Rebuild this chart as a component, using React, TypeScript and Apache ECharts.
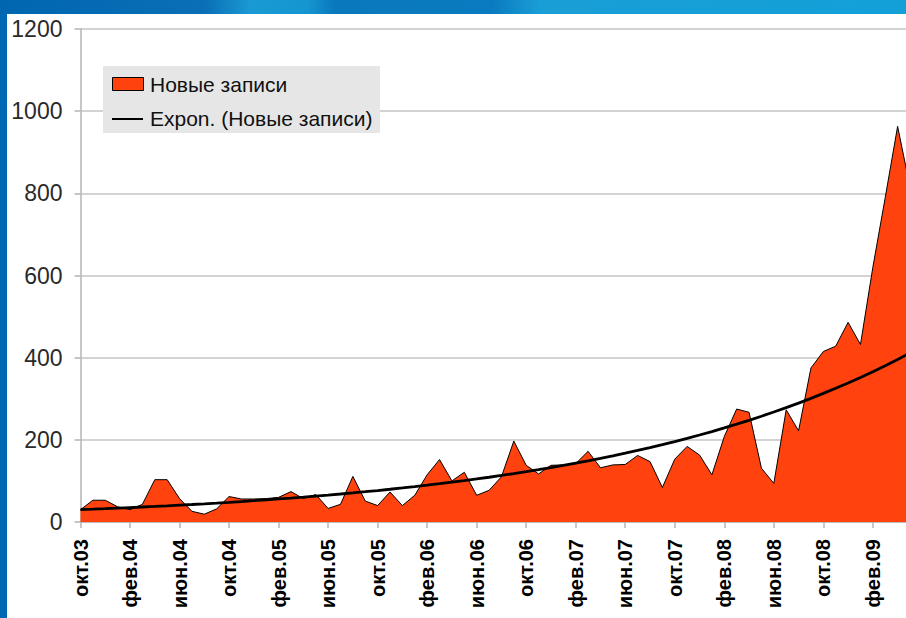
import React, { useEffect, useRef } from "react";
import * as echarts from "echarts";

const categories = [
  "окт.03","ноя.03","дек.03","янв.04","фев.04","мар.04","апр.04","май.04","июн.04","июл.04","авг.04","сен.04",
  "окт.04","ноя.04","дек.04","янв.05","фев.05","мар.05","апр.05","май.05","июн.05","июл.05","авг.05","сен.05",
  "окт.05","ноя.05","дек.05","янв.06","фев.06","мар.06","апр.06","май.06","июн.06","июл.06","авг.06","сен.06",
  "окт.06","ноя.06","дек.06","янв.07","фев.07","мар.07","апр.07","май.07","июн.07","июл.07","авг.07","сен.07",
  "окт.07","ноя.07","дек.07","янв.08","фев.08","мар.08","апр.08","май.08","июн.08","июл.08","авг.08","сен.08",
  "окт.08","ноя.08","дек.08","янв.09","фев.09","мар.09","апр.09","май.09",
];

const newRecords = [
  30, 53, 53, 37, 30, 43, 103, 103, 57, 26, 19, 32,
  62, 56, 56, 57, 60, 74, 57, 67, 33, 43, 111, 51,
  40, 73, 40, 65, 115, 152, 100, 121, 65, 77, 110, 197,
  138, 117, 138, 139, 142, 172, 132, 139, 140, 162, 147, 84,
  153, 184, 163, 115, 208, 275, 267, 131, 94, 273, 222, 375,
  415, 428, 486, 432, 620, 790, 963, 815,
];

const yTicks = { min: 0, max: 1200, interval: 200 };

const seriesName = "Новые записи";
const trendName = "Expon. (Новые записи)";

// Exponential trend (least squares on ln y), as the spreadsheet's trendline does
function expTrend(values: number[]): number[] {
  const n = values.length;
  let sx = 0, sy = 0, sxx = 0, sxy = 0;
  values.forEach((v, i) => {
    const ly = Math.log(v);
    sx += i; sy += ly; sxx += i * i; sxy += i * ly;
  });
  const b = (n * sxy - sx * sy) / (n * sxx - sx * sx);
  const a = (sy - b * sx) / n;
  return values.map((_, i) => Math.exp(a + b * i));
}

const FONT = "'Liberation Sans', Arial, sans-serif";

export default function App() {
  const ref = useRef<HTMLDivElement>(null);
  useEffect(() => {
    if (!ref.current) return;
    const chart = echarts.init(ref.current, null, { renderer: "svg" });
    const trend = expTrend(newRecords);
    chart.setOption({
      animation: false,
      backgroundColor: "#ffffff",
      grid: { left: 80.5, top: 29, right: 20, bottom: 96, outerBoundsMode: "none", containLabel: false },
      xAxis: {
        type: "category",
        data: categories,
        boundaryGap: false,
        axisLine: { show: true, lineStyle: { color: "#b4b4b4", width: 1.5 } },
        axisTick: { show: true, interval: (i: number) => i % 4 === 0, length: 6, lineStyle: { color: "#b4b4b4", width: 1.5 } },
        axisLabel: {
          interval: (i: number) => i % 4 === 0,
          rotate: 90,
          margin: 17,
          fontFamily: FONT,
          fontSize: 20,
          fontWeight: "bold",
          color: "#000000",
        },
        splitLine: { show: false },
      },
      yAxis: {
        type: "value",
        min: yTicks.min,
        max: yTicks.max,
        interval: yTicks.interval,
        axisLine: { show: true, lineStyle: { color: "#b4b4b4", width: 1.5 } },
        axisTick: { show: true, length: 6, lineStyle: { color: "#b4b4b4", width: 1.5 } },
        axisLabel: { margin: 18, fontFamily: FONT, fontSize: 23, color: "#2a2a2a", formatter: (v: number) => String(v) },
        splitLine: { show: true, lineStyle: { color: "#c4c4c4", width: 1.5 } },
      },
      series: [
        {
          name: seriesName,
          type: "line",
          data: newRecords,
          symbol: "none",
          lineStyle: { color: "#000000", width: 1 },
          areaStyle: { color: "#ff420e", opacity: 1 },
          itemStyle: { color: "#ff420e" },
          z: 2,
        },
        {
          name: trendName,
          type: "line",
          data: trend,
          symbol: "none",
          smooth: false,
          lineStyle: { color: "#000000", width: 2.8 },
          z: 3,
        },
      ],
      graphic: [
        { type: "rect", shape: { x: 0, y: 0, width: 7, height: 618 }, style: { fill: "#0068b2" }, z: 100 },
        {
          type: "rect",
          shape: { x: 0, y: 0, width: 930, height: 14 },
          style: {
            fill: new echarts.graphic.LinearGradient(0, 0, 1, 0, [
              { offset: 0, color: "#0066b0" },
              { offset: 0.22, color: "#0a6fb6" },
              { offset: 0.27, color: "#1a9ad3" },
              { offset: 0.33, color: "#1696d0" },
              { offset: 0.36, color: "#0a78bd" },
              { offset: 0.53, color: "#0a7bc0" },
              { offset: 0.58, color: "#1a9ed6" },
              { offset: 1, color: "#12a0d8" },
            ]),
          },
          z: 100,
        },
        { type: "rect", shape: { x: 103, y: 66, width: 277, height: 67 }, style: { fill: "#e6e6e6" }, z: 50 },
        { type: "rect", shape: { x: 112.5, y: 77.5, width: 31, height: 13 }, style: { fill: "#ff420e", stroke: "#000000", lineWidth: 1 }, z: 51 },
        { type: "text", x: 150, y: 84.5, style: { text: seriesName, font: `21px ${FONT}`, fill: "#111111", verticalAlign: "middle", align: "left" }, z: 51 },
        { type: "line", shape: { x1: 112, y1: 119, x2: 143, y2: 119 }, style: { stroke: "#000000", lineWidth: 2 }, z: 51 },
        { type: "text", x: 150, y: 118.5, style: { text: trendName, font: `21px ${FONT}`, fill: "#111111", verticalAlign: "middle", align: "left" }, z: 51 },
      ],
    });
    return () => chart.dispose();
  }, []);
  return (
    <div style={{ position: "fixed", left: 0, top: 0, width: 906, height: 618, overflow: "hidden", background: "#fff" }}>
      <div ref={ref} style={{ width: 930, height: 618 }} />
    </div>
  );
}
